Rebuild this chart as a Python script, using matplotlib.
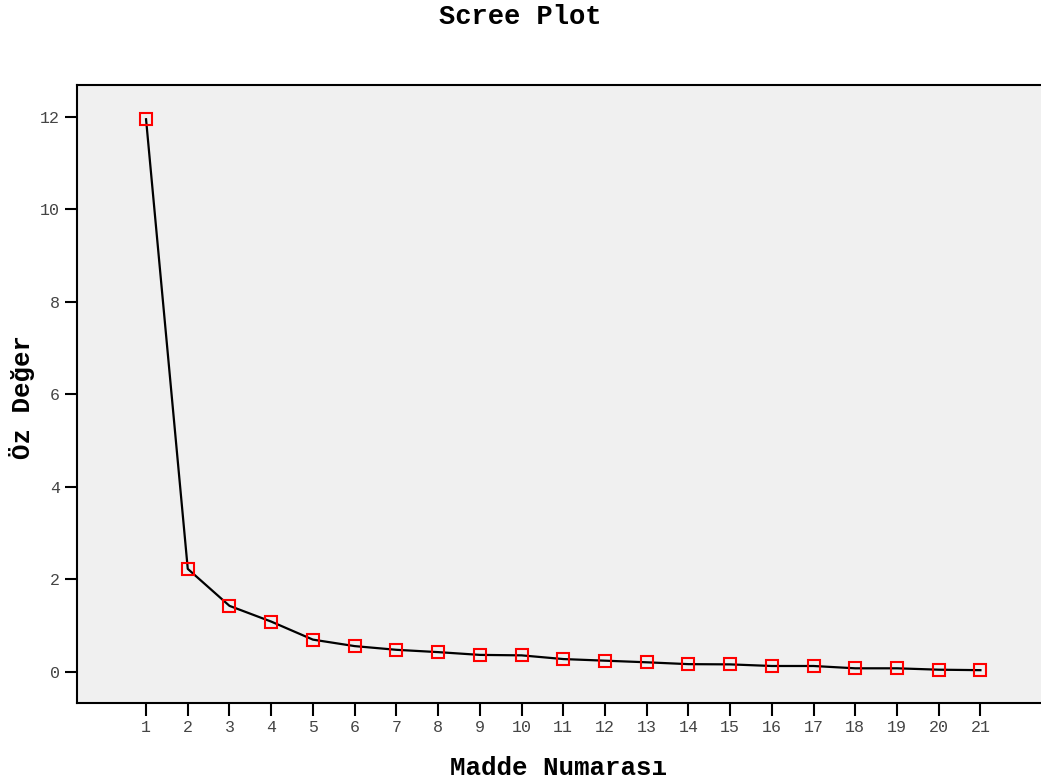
import matplotlib
matplotlib.use("Agg")
import matplotlib.pyplot as plt
from matplotlib import rcParams

rcParams['font.family'] = ['Liberation Mono', 'DejaVu Sans Mono']

# 데이터
madde = list(range(1, 22))
oz_deger = [11.95, 2.23, 1.43, 1.09, 0.70, 0.56, 0.48, 0.43, 0.37, 0.36,
            0.28, 0.245, 0.21, 0.17, 0.165, 0.13, 0.13, 0.08, 0.08, 0.05, 0.04]
x_ticks = list(range(1, 22))
y_ticks = [0, 2, 4, 6, 8, 10, 12]

fig = plt.figure(figsize=(10.41, 7.80), dpi=100)
ax = fig.add_axes([77 / 1041, 1 - 703 / 780, (1043 - 77) / 1041, (703 - 85) / 780])
ax.set_facecolor('#F0F0F0')

ax.plot(madde, oz_deger, color='black', linewidth=1.6, zorder=2)
ax.plot(madde, oz_deger, linestyle='none', marker='s', markersize=8.5,
        markerfacecolor='none', markeredgecolor='red', markeredgewidth=1.5, zorder=3)

ax.set_xlim(-0.655, 22.5)
ax.set_ylim(-0.67, 12.69)
ax.set_xticks(x_ticks)
ax.set_yticks(y_ticks)
ax.tick_params(axis='both', direction='out', length=9, width=1.5,
               labelsize=12, labelcolor='#444444', color='black')
for s in ax.spines.values():
    s.set_linewidth(1.5)

fig.text(0.5, 1 - 17 / 780, "Scree Plot", ha='center', va='center',
         fontsize=19.5, fontweight='bold')
fig.text(558 / 1041, 1 - 768 / 780, "Madde Numarası", ha='center', va='center',
         fontsize=18.5, fontweight='bold')
fig.text(22 / 1041, 1 - 397 / 780, "Öz Değer", ha='center', va='center',
         rotation=90, fontsize=18.5, fontweight='bold')

fig.savefig('out.png', dpi=100)
